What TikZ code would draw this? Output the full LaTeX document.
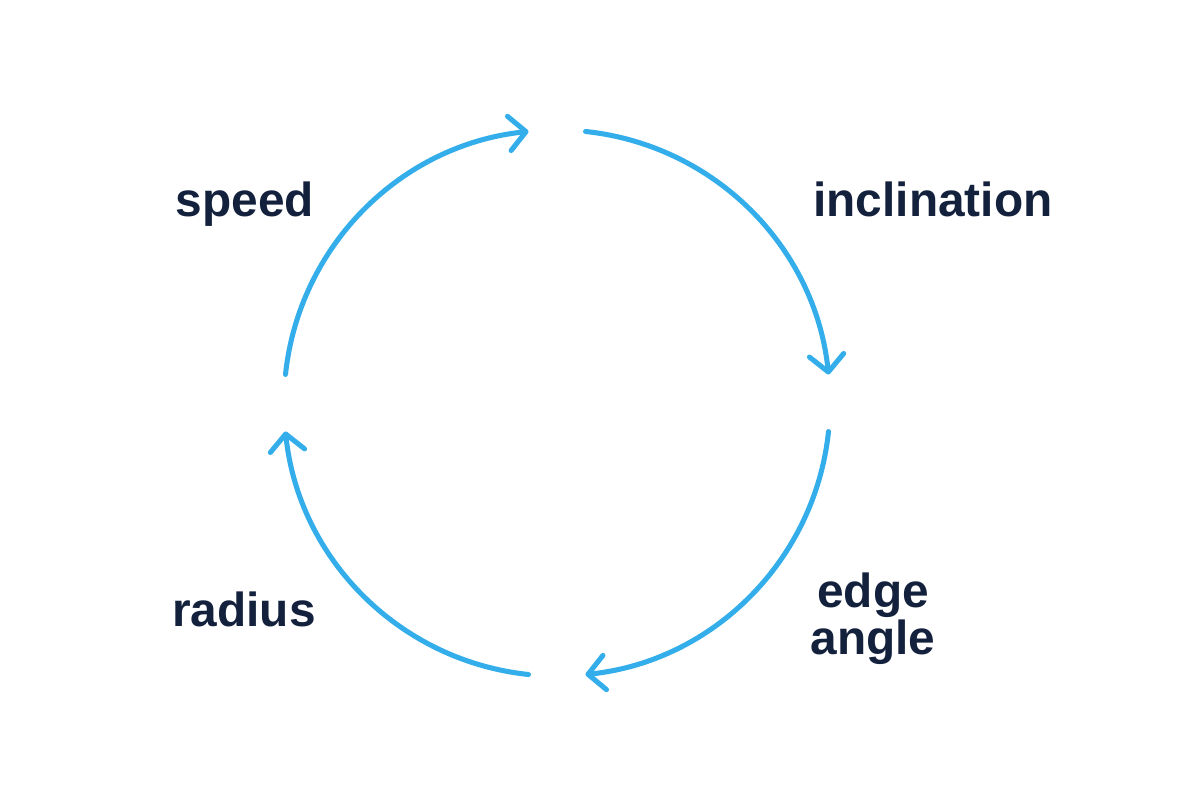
\documentclass[tikz,border=0pt]{standalone}
\usepackage{fontspec}
\setmainfont{Liberation Sans}
\usetikzlibrary{arrows.meta,calc}
\definecolor{arcblue}{HTML}{33AEEA}
\definecolor{inknavy}{HTML}{14213D}

\begin{document}
\begin{tikzpicture}[
    x=0.025cm, y=0.025cm,
    flow/.style={draw=arcblue, line width=3.6pt, line cap=round,
      -{Straight Barb[length=0.42cm, width=0.86cm, round]}},
    factor/.style={text=inknavy, font=\fontsize{34}{34}\selectfont\bfseries, inner sep=0pt, anchor=base, align=center},
]
\useasboundingbox (0,0) rectangle (1200,793);

% Centre of the cycle
\coordinate (c) at (557,390);

% Arc starts
\coordinate (s1) at ($(c)+(174:273)$);
\coordinate (s2) at ($(c)+(84:273)$);
\coordinate (s3) at ($(c)+(-6:273)$);
\coordinate (s4) at ($(c)+(-96:273)$);

% Arcs
\draw[flow] (s1) arc[start angle=174, end angle=96, radius=6.825cm];
\draw[flow] (s2) arc[start angle=84, end angle=6, radius=6.825cm];
\draw[flow] (s3) arc[start angle=-6, end angle=-84, radius=6.825cm];
\draw[flow] (s4) arc[start angle=-96, end angle=-174, radius=6.825cm];

% Labels
\node[factor] (speed) at (245,576) {speed};
\node[factor] (incl) at (933,576) {inclination};
\node[factor] (edge) at (873,138) {edge\\angle};
\node[factor] (radius) at (244,166) {radius};

\end{tikzpicture}
\end{document}
